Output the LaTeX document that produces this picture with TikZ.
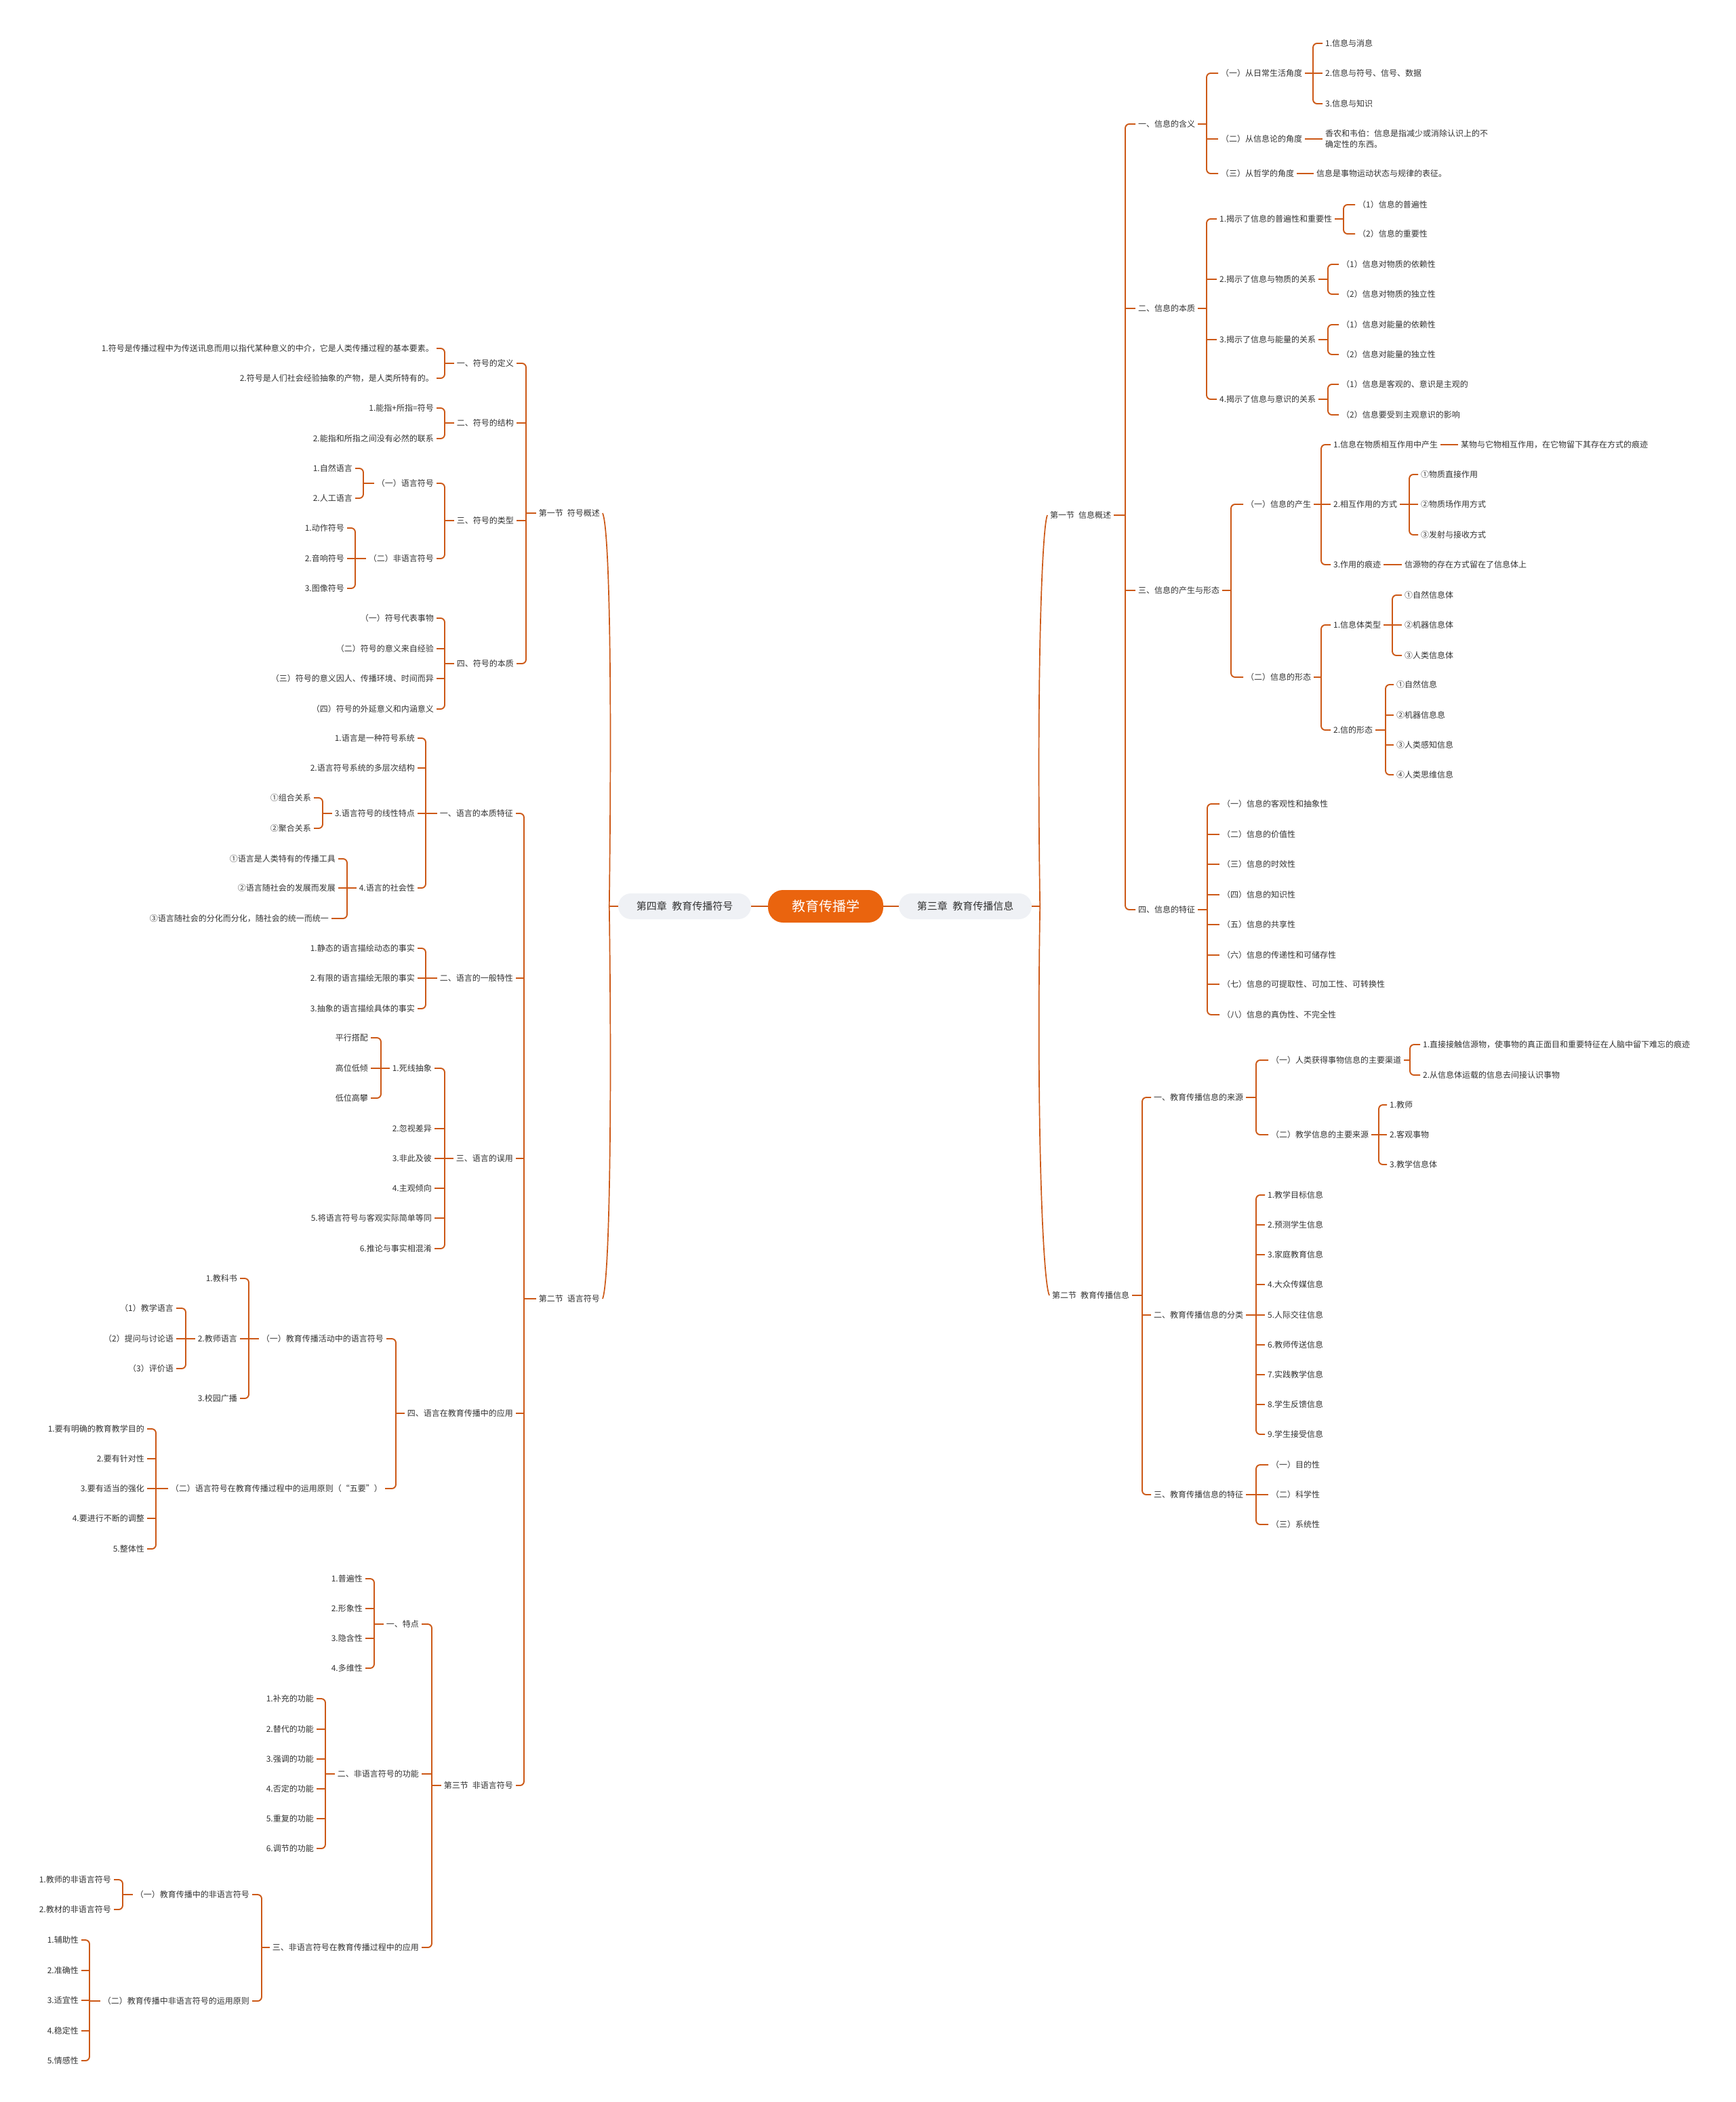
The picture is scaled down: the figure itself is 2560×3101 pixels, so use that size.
\documentclass[tikz,border=0pt]{standalone}
\usepackage{fontspec}
\setmainfont{Noto Sans CJK SC}
\usepackage{tikz}

\definecolor{brc}{RGB}{204,88,22}
\definecolor{rootc}{RGB}{234,100,14}
\definecolor{chapc}{RGB}{239,241,245}
\definecolor{txt}{RGB}{51,51,51}

% parent, spine x, top child, bottom child
\newcommand{\rfork}[4]{%
  \draw[br] (#1.east) -- (#2,0 |- #1.east);
  \draw[br] (#3.west) -| (#2,0 |- #4.west) -- (#4.west);}
\newcommand{\rstub}[2]{\foreach \nn in {#2}{\draw[br] (#1,0 |- \nn.west) -- (\nn.west);}}
\newcommand{\lfork}[4]{%
  \draw[br] (#1.west) -- (#2,0 |- #1.west);
  \draw[br] (#3.east) -| (#2,0 |- #4.east) -- (#4.east);}
\newcommand{\lstub}[2]{\foreach \nn in {#2}{\draw[br] (#1,0 |- \nn.east) -- (\nn.east);}}

\begin{document}
\begin{tikzpicture}[
  x=1pt, y=-1pt,
  every node/.style={font=\fontsize{12}{16}\selectfont, text=txt, inner sep=4pt},
  rlab/.style={anchor=west, xshift=-2pt},
  llab/.style={anchor=east, xshift=2pt},
  br/.style={draw=brc, line width=1.9pt, rounded corners=6pt},
  trunk/.style={draw=brc, line width=1.7pt},
  root/.style={fill=rootc, text=white, rounded corners=22pt, minimum width=170pt, minimum height=48pt, font=\fontsize{20}{24}\selectfont},
  chap/.style={fill=chapc, rounded corners=19pt, minimum width=196pt, minimum height=38pt, font=\fontsize{15}{18}\selectfont},
]
\fill[white] (0,0) rectangle (2560,3101);
\useasboundingbox (0,0) rectangle (2560,3101);

% Root and chapters
\node[root] (root) at (1218,1337) {教育传播学};
\node[chap] (ch3) at (1424,1337) {第三章\enspace 教育传播信息};
\node[chap] (ch4) at (1010,1337) {第四章\enspace 教育传播符号};
\draw[trunk] (root.east) -- (ch3.west);
\draw[trunk] (root.west) -- (ch4.east);

% Chapter 3
\draw[trunk] (ch3.east) -- ++(12,0) coordinate (rjoin);
\node[rlab] (s31) at (1547,760) {第一节\enspace 信息概述};
\node[rlab] (s32) at (1550,1911) {第二节\enspace 教育传播信息};
\draw[trunk] (rjoin) .. controls (1529,1000) and (1537,780) .. (s31.west);
\draw[trunk] (rjoin) .. controls (1529,1650) and (1538,1890) .. (s32.west);

% 3.1
\node[rlab] (a1) at (1677,183) {一、信息的含义};
\node[rlab] (a2) at (1677,455) {二、信息的本质};
\node[rlab] (a3) at (1677,871) {三、信息的产生与形态};
\node[rlab] (a4) at (1677,1342) {四、信息的特征};
\rfork{s31}{1660}{a1}{a4} \rstub{1660}{a2,a3}

% 3.1 一
\node[rlab] (a11) at (1799,108) {（一）从日常生活角度};
\node[rlab] (a12) at (1799,205) {（二）从信息论的角度};
\node[rlab] (a13) at (1799,256) {（三）从哲学的角度};
\rfork{a1}{1780}{a11}{a13} \rstub{1780}{a12}
\node[rlab] (a111) at (1953,64) {1.信息与消息};
\node[rlab] (a112) at (1953,108) {2.信息与符号、信号、数据};
\node[rlab] (a113) at (1953,153) {3.信息与知识};
\rfork{a11}{1937}{a111}{a113} \rstub{1937}{a112}
\node[rlab, align=left] (a121) at (1953,205) {香农和韦伯：信息是指减少或消除认识上的不\\确定性的东西。};
\draw[br] (a12.east) -- (a121.west);
\node[rlab] (a131) at (1940,256) {信息是事物运动状态与规律的表征。};
\draw[br] (a13.east) -- (a131.west);

% 3.1 二
\node[rlab] (b1) at (1797,323) {1.揭示了信息的普遍性和重要性};
\node[rlab] (b2) at (1797,412) {2.揭示了信息与物质的关系};
\node[rlab] (b3) at (1797,501) {3.揭示了信息与能量的关系};
\node[rlab] (b4) at (1797,589) {4.揭示了信息与意识的关系};
\rfork{a2}{1780}{b1}{b4} \rstub{1780}{b2,b3}
\node[rlab] (b11) at (2001,302) {（1）信息的普遍性};
\node[rlab] (b12) at (2001,345) {（2）信息的重要性};
\rfork{b1}{1982}{b11}{b12}
\node[rlab] (b21) at (1977,390) {（1）信息对物质的依赖性};
\node[rlab] (b22) at (1977,434) {（2）信息对物质的独立性};
\rfork{b2}{1959}{b21}{b22}
\node[rlab] (b31) at (1977,479) {（1）信息对能量的依赖性};
\node[rlab] (b32) at (1977,523) {（2）信息对能量的独立性};
\rfork{b3}{1959}{b31}{b32}
\node[rlab] (b41) at (1977,567) {（1）信息是客观的、意识是主观的};
\node[rlab] (b42) at (1977,612) {（2）信息要受到主观意识的影响};
\rfork{b4}{1959}{b41}{b42}

% 3.1 三
\node[rlab] (c1) at (1836,744) {（一）信息的产生};
\node[rlab] (c2) at (1836,999) {（二）信息的形态};
\rfork{a3}{1816}{c1}{c2}
\node[rlab] (c11) at (1965,656) {1.信息在物质相互作用中产生};
\node[rlab] (c12) at (1965,744) {2.相互作用的方式};
\node[rlab] (c13) at (1965,833) {3.作用的痕迹};
\rfork{c1}{1949}{c11}{c13} \rstub{1949}{c12}
\node[rlab] (c111) at (2153,656) {某物与它物相互作用，在它物留下其存在方式的痕迹};
\draw[br] (c11.east) -- (c111.west);
\node[rlab] (c121) at (2094,700) {①物质直接作用};
\node[rlab] (c122) at (2094,744) {②物质场作用方式};
\node[rlab] (c123) at (2094,789) {③发射与接收方式};
\rfork{c12}{2079}{c121}{c123} \rstub{2079}{c122}
\node[rlab] (c131) at (2070,833) {信源物的存在方式留在了信息体上};
\draw[br] (c13.east) -- (c131.west);
\node[rlab] (c21) at (1965,922) {1.信息体类型};
\node[rlab] (c22) at (1965,1077) {2.信的形态};
\rfork{c2}{1949}{c21}{c22}
\node[rlab] (c211) at (2070,878) {①自然信息体};
\node[rlab] (c212) at (2070,922) {②机器信息体};
\node[rlab] (c213) at (2070,967) {③人类信息体};
\rfork{c21}{2054}{c211}{c213} \rstub{2054}{c212}
\node[rlab] (c221) at (2058,1010) {①自然信息};
\node[rlab] (c222) at (2058,1055) {②机器信息息};
\node[rlab] (c223) at (2058,1099) {③人类感知信息};
\node[rlab] (c224) at (2058,1143) {④人类思维信息};
\rfork{c22}{2044}{c221}{c224} \rstub{2044}{c222,c223}

% 3.1 四
\foreach \nm/\yy/\tx in {d1/1186/（一）信息的客观性和抽象性, d2/1231/（二）信息的价值性,
    d3/1275/（三）信息的时效性, d4/1320/（四）信息的知识性, d5/1364/（五）信息的共享性,
    d6/1409/（六）信息的传递性和可储存性, d7/1452/（七）信息的可提取性、可加工性、可转换性,
    d8/1497/（八）信息的真伪性、不完全性}
  \node[rlab] (\nm) at (1801,\yy) {\tx};
\rfork{a4}{1781}{d1}{d8} \rstub{1781}{d2,d3,d4,d5,d6,d7}

% 3.2
\node[rlab] (e1) at (1700,1619) {一、教育传播信息的来源};
\node[rlab] (e2) at (1700,1940) {二、教育传播信息的分类};
\node[rlab] (e3) at (1700,2205) {三、教育传播信息的特征};
\rfork{s32}{1685}{e1}{e3} \rstub{1685}{e2}
\node[rlab] (e11) at (1873,1564) {（一）人类获得事物信息的主要渠道};
\node[rlab] (e12) at (1873,1674) {（二）教学信息的主要来源};
\rfork{e1}{1853}{e11}{e12}
\node[rlab] (e111) at (2097,1541) {1.直接接触信源物，使事物的真正面目和重要特征在人脑中留下难忘的痕迹};
\node[rlab] (e112) at (2097,1586) {2.从信息体运载的信息去间接认识事物};
\rfork{e11}{2080}{e111}{e112}
\node[rlab] (e121) at (2048,1630) {1.教师};
\node[rlab] (e122) at (2048,1674) {2.客观事物};
\node[rlab] (e123) at (2048,1718) {3.教学信息体};
\rfork{e12}{2034}{e121}{e123} \rstub{2034}{e122}
\foreach \nm/\yy/\tx in {f1/1763/1.教学目标信息, f2/1807/2.预测学生信息, f3/1851/3.家庭教育信息,
    f4/1895/4.大众传媒信息, f5/1940/5.人际交往信息, f6/1984/6.教师传送信息,
    f7/2028/7.实践教学信息, f8/2072/8.学生反馈信息, f9/2116/9.学生接受信息}
  \node[rlab] (\nm) at (1868,\yy) {\tx};
\rfork{e2}{1853}{f1}{f9} \rstub{1853}{f2,f3,f4,f5,f6,f7,f8}
\node[rlab] (g1) at (1873,2161) {（一）目的性};
\node[rlab] (g2) at (1873,2205) {（二）科学性};
\node[rlab] (g3) at (1873,2249) {（三）系统性};
\rfork{e3}{1853}{g1}{g3} \rstub{1853}{g2}

% Chapter 4
\draw[trunk] (ch4.west) -- ++(-13,0) coordinate (ljoin);
\node[llab] (s41) at (887,757) {第一节\enspace 符号概述};
\node[llab] (s42) at (887,1916) {第二节\enspace 语言符号};
\draw[trunk] (ljoin) .. controls (903,1000) and (899,780) .. (s41.east);
\draw[trunk] (ljoin) .. controls (903,1650) and (899,1890) .. (s42.east);

% 4.1
\node[llab] (h1) at (760,536) {一、符号的定义};
\node[llab] (h2) at (760,624) {二、符号的结构};
\node[llab] (h3) at (760,768) {三、符号的类型};
\node[llab] (h4) at (760,979) {四、符号的本质};
\lfork{s41}{776}{h1}{h4} \lstub{776}{h2,h3}
\node[llab] (h11) at (642,514) {1.符号是传播过程中为传送讯息而用以指代某种意义的中介，它是人类传播过程的基本要素。};
\node[llab] (h12) at (642,558) {2.符号是人们社会经验抽象的产物，是人类所特有的。};
\lfork{h1}{656}{h11}{h12}
\node[llab] (h21) at (642,602) {1.能指+所指=符号};
\node[llab] (h22) at (642,647) {2.能指和所指之间没有必然的联系};
\lfork{h2}{656}{h21}{h22}
\node[llab] (h31) at (642,713) {（一）语言符号};
\node[llab] (h32) at (642,824) {（二）非语言符号};
\lfork{h3}{656}{h31}{h32}
\node[llab] (h311) at (522,691) {1.自然语言};
\node[llab] (h312) at (522,735) {2.人工语言};
\lfork{h31}{536}{h311}{h312}
\node[llab] (h321) at (510,779) {1.动作符号};
\node[llab] (h322) at (510,824) {2.音响符号};
\node[llab] (h323) at (510,868) {3.图像符号};
\lfork{h32}{524}{h321}{h323} \lstub{524}{h322}
\node[llab] (h41) at (642,912) {（一）符号代表事物};
\node[llab] (h42) at (642,957) {（二）符号的意义来自经验};
\node[llab] (h43) at (642,1001) {（三）符号的意义因人、传播环境、时间而异};
\node[llab] (h44) at (642,1046) {（四）符号的外延意义和内涵意义};
\lfork{h4}{656}{h41}{h44} \lstub{656}{h42,h43}

% 4.2
\node[llab] (i1) at (759,1200) {一、语言的本质特征};
\node[llab] (i2) at (759,1443) {二、语言的一般特性};
\node[llab] (i3) at (759,1709) {三、语言的误用};
\node[llab] (i4) at (759,2085) {四、语言在教育传播中的应用};
\node[llab] (s43) at (759,2634) {第三节\enspace 非语言符号};
\lfork{s42}{773}{i1}{s43} \lstub{773}{i2,i3,i4}
\node[llab] (i11) at (614,1089) {1.语言是一种符号系统};
\node[llab] (i12) at (614,1133) {2.语言符号系统的多层次结构};
\node[llab] (i13) at (614,1200) {3.语言符号的线性特点};
\node[llab] (i14) at (614,1310) {4.语言的社会性};
\lfork{i1}{628}{i11}{i14} \lstub{628}{i12,i13}
\node[llab] (i131) at (461,1177) {①组合关系};
\node[llab] (i132) at (461,1222) {②聚合关系};
\lfork{i13}{476}{i131}{i132}
\node[llab] (i141) at (497,1267) {①语言是人类特有的传播工具};
\node[llab] (i142) at (497,1310) {②语言随社会的发展而发展};
\node[llab] (i143) at (487,1355) {③语言随社会的分化而分化，随社会的统一而统一};
\lfork{i14}{512}{i141}{i143} \lstub{512}{i142}
\node[llab] (i21) at (614,1399) {1.静态的语言描绘动态的事实};
\node[llab] (i22) at (614,1443) {2.有限的语言描绘无限的事实};
\node[llab] (i23) at (614,1488) {3.抽象的语言描绘具体的事实};
\lfork{i2}{628}{i21}{i23} \lstub{628}{i22}
\foreach \nm/\yy/\tx in {i31/1576/1.死线抽象, i32/1665/2.忽视差异, i33/1709/3.非此及彼,
    i34/1753/4.主观倾向, i35/1797/5.将语言符号与客观实际简单等同, i36/1842/6.推论与事实相混淆}
  \node[llab] (\nm) at (639,\yy) {\tx};
\lfork{i3}{656}{i31}{i36} \lstub{656}{i32,i33,i34,i35}
\node[llab] (i311) at (545,1531) {平行搭配};
\node[llab] (i312) at (545,1576) {高位低倾};
\node[llab] (i313) at (545,1620) {低位高攀};
\lfork{i31}{562}{i311}{i313} \lstub{562}{i312}
\node[llab] (i41) at (568,1975) {（一）教育传播活动中的语言符号};
\node[llab] (i42) at (566,2196) {（二）语言符号在教育传播过程中的运用原则（“五要”）};
\lfork{i4}{584}{i41}{i42}
\node[llab] (i411) at (352,1886) {1.教科书};
\node[llab] (i412) at (352,1975) {2.教师语言};
\node[llab] (i413) at (352,2063) {3.校园广播};
\lfork{i41}{367}{i411}{i413} \lstub{367}{i412}
\node[llab] (i4121) at (258,1930) {（1）教学语言};
\node[llab] (i4122) at (258,1975) {（2）提问与讨论语};
\node[llab] (i4123) at (258,2019) {（3）评价语};
\lfork{i412}{274}{i4121}{i4123} \lstub{274}{i4122}
\foreach \nm/\yy/\tx in {i421/2108/1.要有明确的教育教学目的, i422/2152/2.要有针对性,
    i423/2196/3.要有适当的强化, i424/2240/4.要进行不断的调整, i425/2285/5.整体性}
  \node[llab] (\nm) at (215,\yy) {\tx};
\lfork{i42}{230}{i421}{i425} \lstub{230}{i422,i423,i424}

% 4.3
\node[llab] (j1) at (620,2396) {一、特点};
\node[llab] (j2) at (620,2617) {二、非语言符号的功能};
\node[llab] (j3) at (620,2873) {三、非语言符号在教育传播过程中的应用};
\lfork{s43}{637}{j1}{j3} \lstub{637}{j2}
\foreach \nm/\yy/\tx in {j11/2329/1.普遍性, j12/2373/2.形象性, j13/2417/3.隐含性, j14/2461/4.多维性}
  \node[llab] (\nm) at (537,\yy) {\tx};
\lfork{j1}{552}{j11}{j14} \lstub{552}{j12,j13}
\foreach \nm/\yy/\tx in {j21/2506/1.补充的功能, j22/2551/2.替代的功能, j23/2595/3.强调的功能,
    j24/2639/4.否定的功能, j25/2683/5.重复的功能, j26/2727/6.调节的功能}
  \node[llab] (\nm) at (465,\yy) {\tx};
\lfork{j2}{480}{j21}{j26} \lstub{480}{j22,j23,j24,j25}
\node[llab] (j31) at (370,2795) {（一）教育传播中的非语言符号};
\node[llab] (j32) at (370,2952) {（二）教育传播中非语言符号的运用原则};
\lfork{j3}{386}{j31}{j32}
\node[llab] (j311) at (166,2773) {1.教师的非语言符号};
\node[llab] (j312) at (166,2817) {2.教材的非语言符号};
\lfork{j31}{181}{j311}{j312}
\foreach \nm/\yy/\tx in {j321/2862/1.辅助性, j322/2907/2.准确性, j323/2951/3.适宜性,
    j324/2996/4.稳定性, j325/3040/5.情感性}
  \node[llab] (\nm) at (118,\yy) {\tx};
\lfork{j32}{132}{j321}{j325} \lstub{132}{j322,j323,j324}

\end{tikzpicture}
\end{document}
